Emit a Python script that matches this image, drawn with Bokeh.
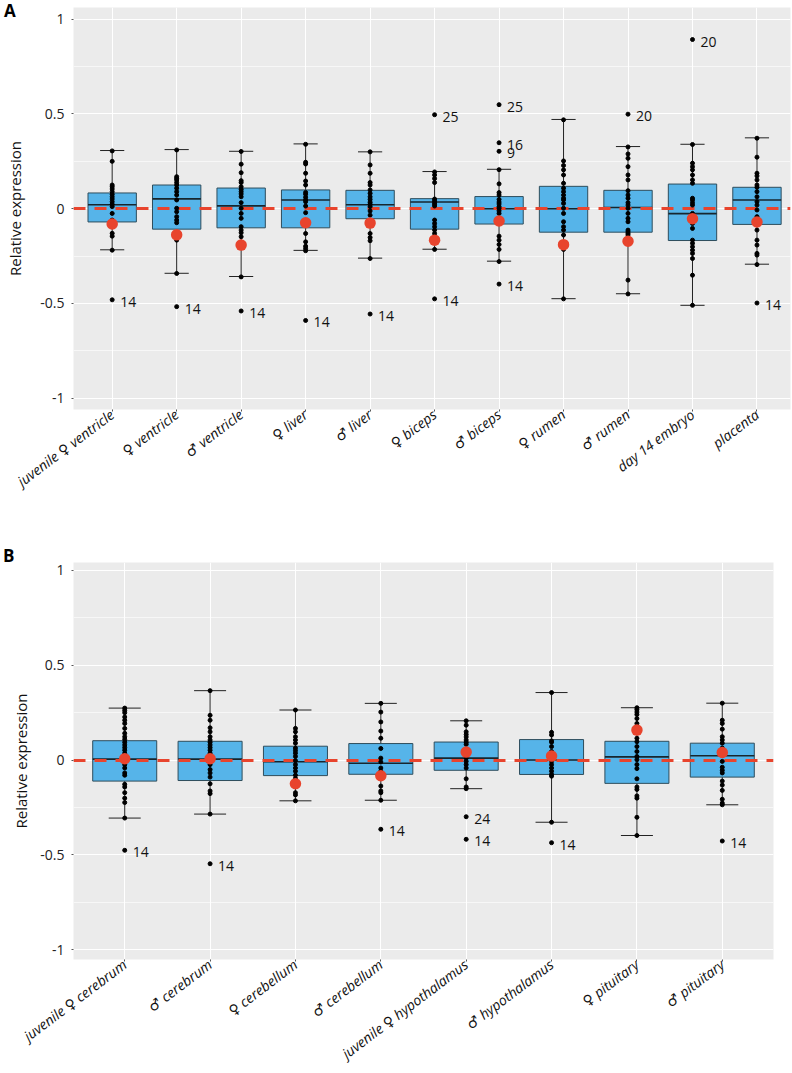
import math
from bokeh.plotting import figure
from bokeh.models import Range1d, FixedTicker, ColumnDataSource, Div
from bokeh.layouts import column
from bokeh.embed import file_html
from bokeh.resources import INLINE
from bokeh.core.properties import value

# ---------------- Panel A data ----------------
cats_a = ["juvenile \u2640 ventricle", "\u2640 ventricle", "\u2642 ventricle", "\u2640 liver", "\u2642 liver",
          "\u2640 biceps", "\u2642 biceps", "\u2640 rumen", "\u2642 rumen", "day 14 embryo", "placenta"]
q3_a = [0.083, 0.125, 0.109, 0.099, 0.097, 0.053, 0.064, 0.118, 0.097, 0.13, 0.113]
med_a = [0.021, 0.052, 0.015, 0.046, 0.021, 0.035, 0.0, 0.0, 0.006, -0.026, 0.046]
q1_a = [-0.07, -0.108, -0.101, -0.101, -0.053, -0.108, -0.081, -0.124, -0.124, -0.168, -0.083]
hi_a = [0.307, 0.312, 0.303, 0.342, 0.3, 0.196, 0.208, 0.471, 0.328, 0.34, 0.374]
lo_a = [-0.217, -0.341, -0.358, -0.22, -0.261, -0.214, -0.277, -0.475, -0.449, -0.51, -0.293]
mean_a = [-0.081, -0.138, -0.192, -0.074, -0.076, -0.166, -0.065, -0.19, -0.172, -0.053, -0.07]
pts_a = [
    [0.305, 0.25, 0.125, 0.116, 0.104, 0.09, 0.076, 0.063, 0.051, 0.037, 0.023, 0.011, -0.025, -0.06, -0.13, -0.145, -0.219],
    [0.31, 0.169, 0.16, 0.152, 0.138, 0.125, 0.108, 0.09, 0.072, 0.046, 0.002, -0.016, -0.042, -0.06, -0.074, -0.166, -0.342],
    [0.302, 0.235, 0.19, 0.148, 0.138, 0.116, 0.102, 0.09, 0.078, 0.063, 0.032, 0.002, -0.025, -0.051, -0.095, -0.113, -0.127, -0.148, -0.36],
    [0.34, 0.245, 0.236, 0.187, 0.146, 0.125, 0.086, 0.076, 0.06, 0.046, 0.037, 0.014, -0.021, -0.074, -0.131, -0.175, -0.198, -0.21, -0.222],
    [0.3, 0.231, 0.187, 0.138, 0.125, 0.099, 0.081, 0.063, 0.049, 0.034, 0.023, 0.011, -0.012, -0.034, -0.131, -0.152, -0.169, -0.263],
    [0.194, 0.178, 0.159, 0.138, 0.051, 0.042, 0.032, 0.023, 0.014, -0.06, -0.078, -0.095, -0.113, -0.131, -0.215],
    [0.206, 0.131, 0.085, 0.072, 0.049, 0.035, 0.025, 0.011, 0.002, -0.011, -0.025, -0.051, -0.145, -0.166, -0.189, -0.215, -0.279],
    [0.469, 0.252, 0.228, 0.205, 0.178, 0.134, 0.108, 0.09, 0.072, 0.055, 0.046, 0.028, 0.002, -0.025, -0.069, -0.095, -0.113, -0.139, -0.215, -0.476],
    [0.326, 0.289, 0.266, 0.222, 0.178, 0.152, 0.095, 0.072, 0.055, 0.032, 0.019, 0.002, -0.025, -0.051, -0.069, -0.113, -0.122, -0.131, -0.139, -0.377, -0.45],
    [0.339, 0.24, 0.222, 0.205, 0.178, 0.152, 0.134, 0.055, 0.046, 0.032, 0.019, -0.025, -0.06, -0.078, -0.104, -0.166, -0.183, -0.201, -0.219, -0.236, -0.263, -0.351, -0.51],
    [0.372, 0.272, 0.187, 0.173, 0.152, 0.125, 0.113, 0.09, 0.063, 0.037, 0.019, -0.007, -0.042, -0.069, -0.113, -0.166, -0.192, -0.236, -0.245, -0.295],
]
out_a_idx = [0, 1, 2, 3, 4, 5, 5, 6, 6, 6, 6, 8, 9, 10]
out_a_val = [-0.481, -0.517, -0.54, -0.59, -0.556, 0.496, -0.476, 0.549, 0.348, 0.303, -0.398, 0.499, 0.893, -0.498]
out_a_lab = ["14", "14", "14", "14", "14", "25", "14", "25", "16", "9", "14", "20", "20", "14"]

# ---------------- Panel B data ----------------
cats_b = ["juvenile \u2640 cerebrum", "\u2642 cerebrum", "\u2640 cerebellum", "\u2642 cerebellum",
          "juvenile \u2640 hypothalamus", "\u2642 hypothalamus", "\u2640 pituitary", "\u2642 pituitary"]
q3_b = [0.102, 0.099, 0.073, 0.087, 0.095, 0.108, 0.099, 0.089]
med_b = [0.005, 0.005, -0.009, -0.017, 0.01, 0.0, 0.017, 0.023]
q1_b = [-0.111, -0.108, -0.082, -0.075, -0.054, -0.076, -0.123, -0.09]
hi_b = [0.274, 0.366, 0.264, 0.299, 0.207, 0.356, 0.276, 0.3]
lo_b = [-0.306, -0.285, -0.215, -0.212, -0.151, -0.328, -0.398, -0.236]
mean_b = [0.007, 0.007, -0.125, -0.083, 0.042, 0.021, 0.158, 0.04]
pts_b = [
    [0.274, 0.262, 0.25, 0.227, 0.21, 0.193, 0.167, 0.141, 0.123, 0.109, 0.094, 0.08, 0.066, 0.052, 0.036, 0.019, -0.003, -0.024, -0.042, -0.068, -0.08, -0.128, -0.142, -0.172, -0.201, -0.224, -0.306],
    [0.366, 0.236, 0.21, 0.17, 0.149, 0.123, 0.106, 0.094, 0.08, 0.066, 0.052, 0.036, 0.019, -0.007, -0.024, -0.05, -0.068, -0.09, -0.125, -0.163, -0.177, -0.285],
    [0.264, 0.167, 0.149, 0.123, 0.106, 0.089, 0.063, 0.05, 0.036, 0.019, -0.003, -0.024, -0.042, -0.059, -0.08, -0.097, -0.172, -0.184, -0.215],
    [0.299, 0.253, 0.201, 0.153, 0.115, 0.061, 0.01, -0.01, -0.042, -0.059, -0.094, -0.137, -0.163, -0.172, -0.212],
    [0.207, 0.184, 0.149, 0.135, 0.122, 0.106, 0.094, 0.083, 0.045, 0.01, -0.007, -0.024, -0.042, -0.099, -0.142, -0.151],
    [0.356, 0.146, 0.132, 0.101, 0.094, 0.071, 0.045, 0.01, -0.007, -0.024, -0.042, -0.059, -0.076, -0.085, -0.328],
    [0.276, 0.266, 0.253, 0.24, 0.219, 0.193, 0.149, 0.115, 0.097, 0.071, 0.045, 0.019, 0.002, -0.024, -0.045, -0.099, -0.142, -0.155, -0.189, -0.201, -0.302, -0.398],
    [0.3, 0.21, 0.193, 0.163, 0.123, 0.106, 0.089, 0.063, 0.045, 0.024, -0.007, -0.038, -0.054, -0.068, -0.111, -0.132, -0.16, -0.207, -0.227, -0.236],
]
out_b_idx = [0, 1, 3, 4, 4, 5, 7]
out_b_val = [-0.476, -0.547, -0.365, -0.299, -0.418, -0.436, -0.427]
out_b_lab = ["14", "14", "14", "24", "14", "14", "14"]

FONT = "Open Sans"
XFONT = "'Open Sans', 'DejaVu Sans'"
BOX_FILL = "#56B4E9"
BOX_LINE = "#2E4D5C"
RED = "#E8442D"


def panel(cats, q1, med, q3, lo, hi, mean, pts, oi, ov, ol,
          width, height, x_end, y_start, y_end, mb_top, mb_bottom, mb_right, ylab_standoff):
    n = len(cats)
    xs = list(range(1, n + 1))
    p = figure(width=width, height=height, output_backend="svg", toolbar_location=None,
               x_range=Range1d(0.4, x_end), y_range=Range1d(y_start, y_end),
               min_border_left=73, min_border_right=mb_right, min_border_top=mb_top,
               min_border_bottom=mb_bottom)
    p.background_fill_color = "#EBEBEB"
    p.border_fill_color = "white"
    p.outline_line_color = None

    # grids
    p.xgrid.ticker = FixedTicker(ticks=xs)
    p.xgrid.grid_line_color = "white"
    p.xgrid.grid_line_width = 1
    p.ygrid.ticker = FixedTicker(ticks=[-1, -0.5, 0, 0.5, 1], minor_ticks=[-0.75, -0.25, 0.25, 0.75])
    p.ygrid.grid_line_color = "white"
    p.ygrid.grid_line_width = 1.1
    p.ygrid.minor_grid_line_color = "white"
    p.ygrid.minor_grid_line_width = 0.6

    # axes
    p.xaxis.ticker = FixedTicker(ticks=xs)
    p.xaxis.major_label_overrides = {i: c for i, c in zip(xs, cats)}
    p.xaxis.major_label_orientation = math.radians(37)
    p.xaxis.major_label_text_font = XFONT
    p.xaxis.major_label_text_font_style = "italic"
    p.xaxis.major_label_text_font_size = "14px"
    p.xaxis.major_label_text_line_height = 1.0
    p.xaxis.major_label_text_color = "#111"
    p.xaxis.major_label_standoff = 1
    p.xaxis.axis_line_color = None
    p.xaxis.major_tick_line_color = "#555"
    p.xaxis.major_tick_out = 2
    p.xaxis.major_tick_in = 0
    p.xaxis.minor_tick_line_color = None

    p.yaxis.ticker = FixedTicker(ticks=[-1, -0.5, 0, 0.5, 1])
    p.yaxis.major_label_overrides = {1: "1", 0.5: "0.5", 0: "0", -0.5: "-0.5", -1: "-1"}
    p.yaxis.major_label_text_font = FONT
    p.yaxis.major_label_text_font_size = "14px"
    p.yaxis.major_label_text_color = "#222"
    p.yaxis.major_label_standoff = 7
    p.yaxis.axis_line_color = None
    p.yaxis.major_tick_line_color = "#555"
    p.yaxis.major_tick_out = 2
    p.yaxis.major_tick_in = 0
    p.yaxis.minor_tick_line_color = None
    p.yaxis.axis_label = "Relative expression"
    p.yaxis.axis_label_text_font = FONT
    p.yaxis.axis_label_text_font_size = "15px"
    p.yaxis.axis_label_text_font_style = "normal"
    p.yaxis.axis_label_text_color = "#111"
    p.yaxis.axis_label_standoff = ylab_standoff

    bw = 0.75
    cw = 0.375
    src = ColumnDataSource(dict(
        x=xs, q1=q1, med=med, q3=q3, lo=lo, hi=hi, mean=mean,
        bl=[x - bw / 2 for x in xs], br=[x + bw / 2 for x in xs],
        cl=[x - cw / 2 for x in xs], cr=[x + cw / 2 for x in xs],
    ))
    p.segment(x0="x", x1="x", y0="lo", y1="hi", source=src, line_color="#222", line_width=1)
    p.segment(x0="cl", x1="cr", y0="hi", y1="hi", source=src, line_color="#222", line_width=1)
    p.segment(x0="cl", x1="cr", y0="lo", y1="lo", source=src, line_color="#222", line_width=1)
    p.quad(left="bl", right="br", bottom="q1", top="q3", source=src,
           fill_color=BOX_FILL, line_color=BOX_LINE, line_width=1)
    p.segment(x0="bl", x1="br", y0="med", y1="med", source=src, line_color="#17262E", line_width=1.6)

    p.hspan(y=[0], line_color=RED, line_width=3, line_dash="12 9")

    px, py = [], []
    for x, vals in zip(xs, pts):
        for v in vals:
            px.append(x)
            py.append(v)
    p.scatter(px, py, size=4, color="black")

    ox = [xs[i] for i in oi]
    p.scatter(ox, ov, size=4, color="black")
    p.text(ox, ov, text=ol, x_offset=8, y_offset=2, text_font=value(FONT), text_font_size="14px",
           text_baseline="middle", text_align="left", text_color="#111")

    p.scatter("x", "mean", source=src, size=11.5, color=RED, line_color=None)
    return p


pa = panel(cats_a, q1_a, med_a, q3_a, lo_a, hi_a, mean_a, pts_a, out_a_idx, out_a_val, out_a_lab,
           width=792, height=536, x_end=11.52, y_start=-1.06, y_end=1.062,
           mb_top=7, mb_bottom=127, mb_right=2, ylab_standoff=12)
pb = panel(cats_b, q1_b, med_b, q3_b, lo_b, hi_b, mean_b, pts_b, out_b_idx, out_b_val, out_b_lab,
           width=775, height=537, x_end=8.6, y_start=-1.052, y_end=1.042,
           mb_top=26, mb_bottom=109, mb_right=2, ylab_standoff=6)

letter_style = {"position": "absolute", "font-family": "Open Sans, sans-serif", "font-weight": "bold",
                "font-size": "17px", "line-height": "17px", "color": "black", "z-index": "10"}
div_a = Div(text="A", width=20, height=20, styles=dict(letter_style, left="-1px", top="-3px"))
div_b = Div(text="B", width=20, height=20, styles=dict(letter_style, left="-2px", top="542px"))

layout = column(pa, pb, div_a, div_b, spacing=0)
open("out.html", "w").write(file_html(layout, INLINE))
